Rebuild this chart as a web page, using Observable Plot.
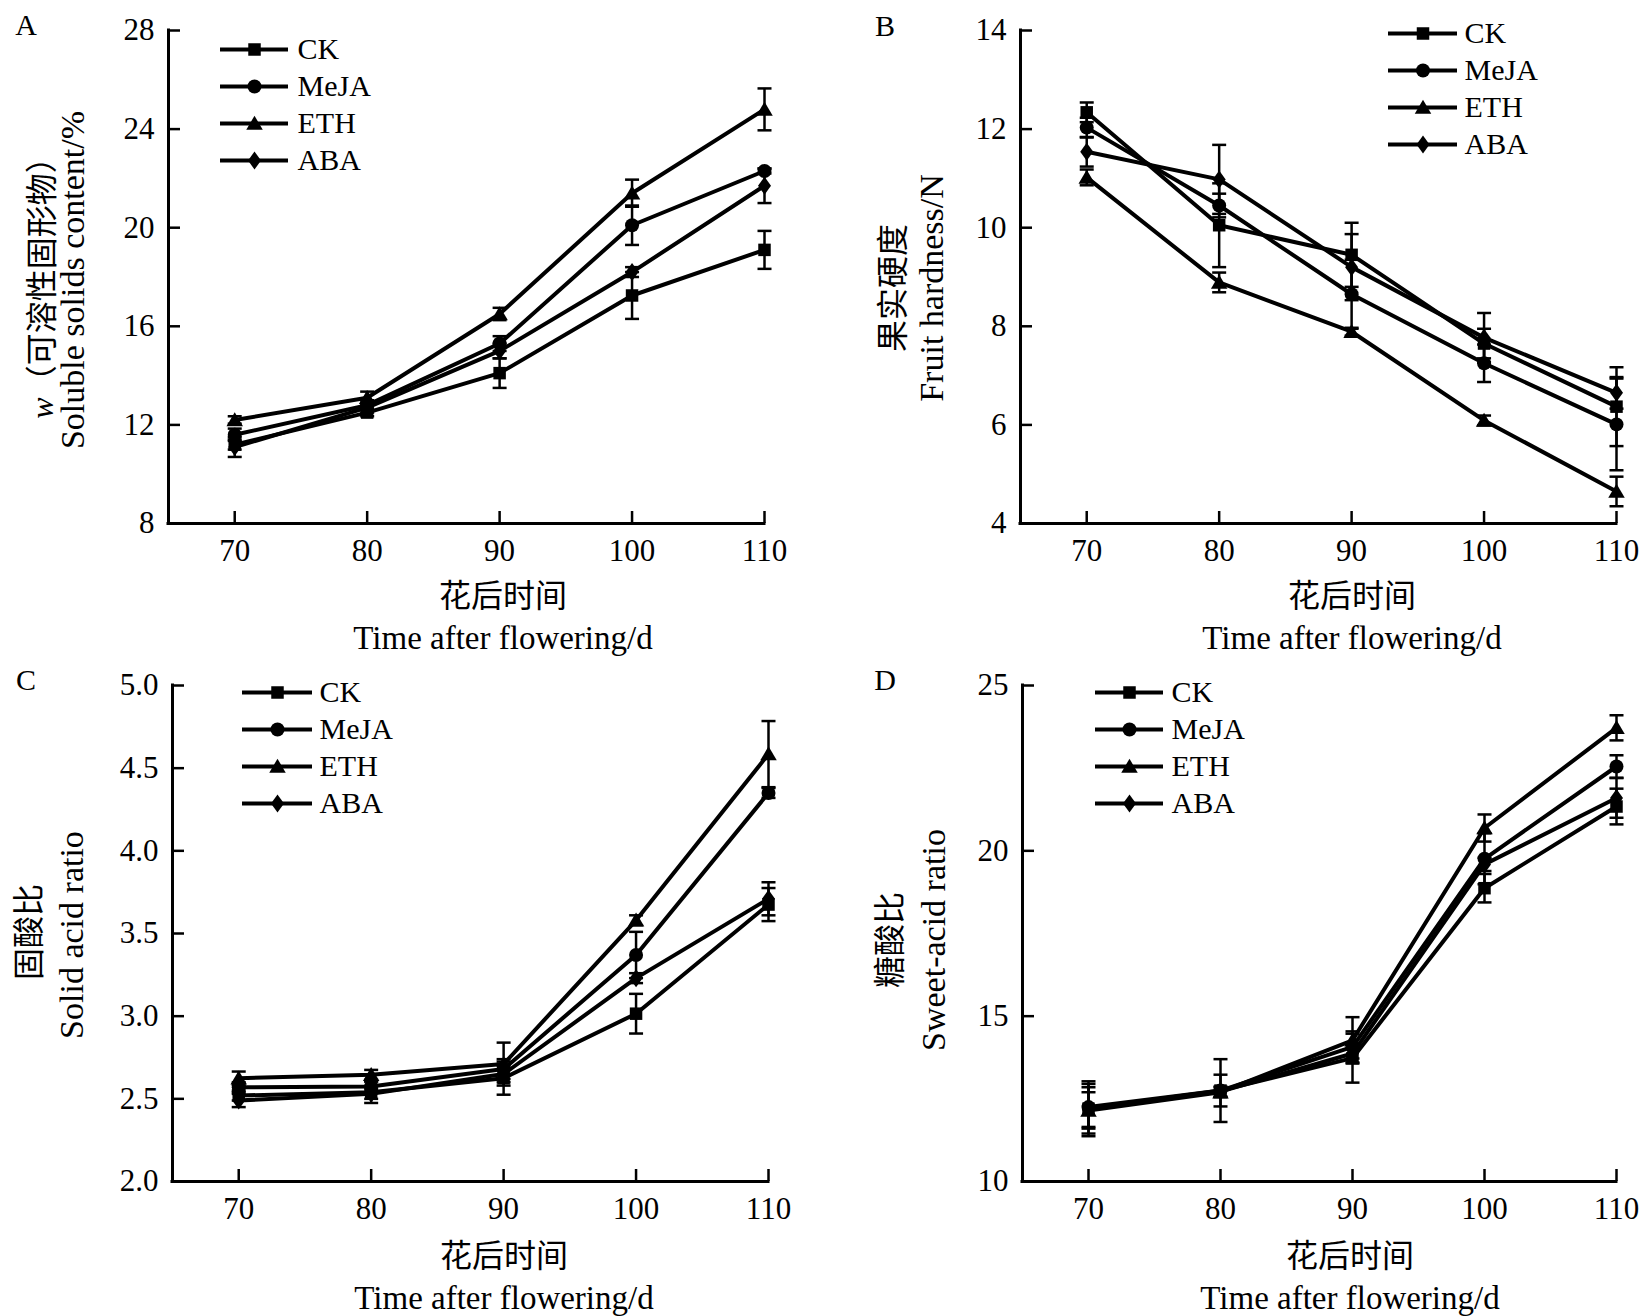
<!DOCTYPE html>
<html><head><meta charset="utf-8">
<script src="https://cdn.jsdelivr.net/npm/d3@7"></script>
<script src="https://cdn.jsdelivr.net/npm/@observablehq/plot@0.6"></script>
<style>
body{margin:0;background:#fff;}
#fig{position:relative;width:1651px;height:1316px;background:#fff;font-family:"Liberation Serif","Noto Sans CJK SC",serif;color:#000;overflow:hidden;}
#fig svg{overflow:visible;}
.box{position:absolute;}
.lbl{position:absolute;white-space:nowrap;transform:translate(-50%,-50%);font-size:33px;line-height:1;}
.zh{font-size:32px;}
.yt{font-size:34px;}
.rot{transform:translate(-50%,-50%) rotate(-90deg);}
.let{font-size:30px;}
</style></head><body><div id="fig"></div>
<script>
// ---------- data ----------
const days = [70, 80, 90, 100, 110];
const groups = ["CK", "MeJA", "ETH", "ABA"];
const xTicks = [70, 80, 90, 100, 110];

// A: soluble solids content (%)   rows: CK, MeJA, ETH, ABA
const sscMean = [[11.2, 12.5, 14.1, 17.25, 19.1], [11.6, 12.8, 15.3, 20.1, 22.3], [12.2, 13.1, 16.5, 21.4, 24.8], [11.1, 12.7, 15.0, 18.2, 21.7]];
const sscErr  = [[0.2, 0.15, 0.6, 0.95, 0.77], [0.25, 0.2, 0.3, 0.8, 0.1], [0.15, 0.25, 0.25, 0.55, 0.85], [0.4, 0.2, 0.3, 0.2, 0.7]];
const sscTicks = [8, 12, 16, 20, 24, 28];

// B: fruit hardness (N)
const hardMean = [[12.34, 10.05, 9.45, 7.65, 6.37], [12.03, 10.45, 8.65, 7.25, 6.01], [11.02, 8.89, 7.89, 6.09, 4.65], [11.54, 10.98, 9.2, 7.77, 6.65]];
const hardErr  = [[0.2, 0.85, 0.65, 0.3, 0.8], [0.2, 0.24, 0.7, 0.38, 0.93], [0.16, 0.2, 0.08, 0.1, 0.3], [0.3, 0.7, 0.67, 0.5, 0.32]];
const hardTicks = [4, 6, 8, 10, 12, 14];

// C: solid acid ratio
const solidMean = [[2.52, 2.54, 2.625, 3.015, 3.675], [2.57, 2.575, 2.68, 3.37, 4.35], [2.625, 2.645, 2.71, 3.58, 4.585], [2.49, 2.53, 2.65, 3.23, 3.71]];
const solidErr  = [[0.03, 0.065, 0.1, 0.12, 0.1], [0.03, 0.03, 0.06, 0.14, 0.03], [0.04, 0.03, 0.13, 0.03, 0.2], [0.04, 0.03, 0.05, 0.03, 0.1]];
const solidTicks = [2.0, 2.5, 3.0, 3.5, 4.0, 4.5, 5.0];

// D: sweet-acid ratio
const sweetMean = [[12.2, 12.75, 13.73, 18.87, 21.34], [12.25, 12.75, 14.07, 19.76, 22.55], [12.15, 12.7, 14.27, 20.69, 23.72], [12.2, 12.72, 13.87, 19.59, 21.6]];
const sweetErr  = [[0.83, 0.95, 0.74, 0.43, 0.54], [0.6, 0.48, 0.47, 0.77, 0.34], [0.55, 0.15, 0.7, 0.41, 0.38], [0.75, 0.15, 0.15, 0.2, 0.6]];
const sweetTicks = [10, 15, 20, 25];

// ---------- symbols ----------
const symSquare = {draw(c, size){ const s = Math.sqrt(size); c.rect(-s/2, -s/2, s, s); }};
const symCircle = {draw(c, size){ const s = Math.sqrt(size); c.moveTo(s*0.56, 0); c.arc(0, 0, s*0.56, 0, 2*Math.PI); }};
const symTri = {draw(c, size){ const s = Math.sqrt(size); c.moveTo(0, -s*0.62); c.lineTo(s*0.66, s*0.5); c.lineTo(-s*0.66, s*0.5); c.closePath(); }};
const symDia = {draw(c, size){ const s = Math.sqrt(size); c.moveTo(0, -s*0.72); c.lineTo(s*0.52, 0); c.lineTo(0, s*0.72); c.lineTo(-s*0.52, 0); c.closePath(); }};
const symCap = {draw(c, size){ const s = Math.sqrt(size); c.moveTo(-s/2, 0); c.lineTo(s/2, 0); }};
const symbolScale = {domain: groups, range: [symSquare, symCircle, symTri, symDia]};
const R = 12.5 / Math.sqrt(Math.PI);
const RCAP = 14 / Math.sqrt(Math.PI);

const fig = document.getElementById("fig");
const FONT = "'Liberation Serif','Noto Sans CJK SC',serif";
const TICKFONT = 31, LEGFONT = 30;

function rows(mean, err){
  const out = [];
  groups.forEach((g, i) => days.forEach((d, j) => out.push({group: g, day: d, v: mean[i][j], e: err[i][j]})));
  return out;
}

function place(node, left, top){
  const w = document.createElement("div");
  w.className = "box"; w.style.left = left + "px"; w.style.top = top + "px";
  w.appendChild(node); fig.appendChild(w);
}

function panel(p){
  const data = rows(p.mean, p.err);
  const innerW = p.width - p.ml - p.mr, innerH = p.height - p.mt - p.mb;
  const chart = Plot.plot({
    width: p.width, height: p.height,
    marginLeft: p.ml, marginRight: p.mr, marginTop: p.mt, marginBottom: p.mb,
    style: {fontFamily: FONT, fontSize: TICKFONT + "px", color: "black", background: "transparent", overflow: "visible"},
    x: {domain: [65, 110]},
    y: {domain: p.yDomain},
    symbol: symbolScale,
    marks: [
      Plot.ruleX([65], {stroke: "black", strokeWidth: 3, strokeLinecap: "square"}),
      Plot.ruleY([p.yDomain[0]], {stroke: "black", strokeWidth: 3, strokeLinecap: "square"}),
      Plot.tickX(xTicks, {x: d => d, insetTop: innerH - 12, stroke: "black", strokeWidth: 2.5}),
      Plot.tickY(p.yTicks, {y: d => d, insetRight: innerW - 12, stroke: "black", strokeWidth: 2.5}),
      Plot.axisX(xTicks, {tickSize: 0, tickPadding: 15, fontSize: TICKFONT, label: null}),
      Plot.axisY(p.yTicks, {tickSize: 0, tickPadding: 14, fontSize: TICKFONT, label: null, tickFormat: p.fmt}),
      Plot.line(data, {x: "day", y: "v", z: "group", stroke: "black", strokeWidth: 4}),
      Plot.ruleX(data, {x: "day", y1: d => d.v - d.e, y2: d => d.v + d.e, stroke: "black", strokeWidth: 2.5}),
      Plot.dot(data, {x: "day", y: d => d.v + d.e, symbol: symCap, r: RCAP, fill: "none", stroke: "black", strokeWidth: 2.5}),
      Plot.dot(data, {x: "day", y: d => d.v - d.e, symbol: symCap, r: RCAP, fill: "none", stroke: "black", strokeWidth: 2.5}),
      Plot.dot(data, {x: "day", y: "v", symbol: "group", r: R, fill: "black", stroke: "none"})
    ]
  });
  place(chart, p.left, p.top);
}

function legend(lineStart, firstRow, lineLen, gap, dx){
  const pad = 20;
  const chart = Plot.plot({
    width: pad + lineLen + 140, height: pad * 2 + gap * 3,
    marginLeft: pad, marginRight: 140, marginTop: pad, marginBottom: pad,
    style: {fontFamily: FONT, fontSize: LEGFONT + "px", color: "black", background: "transparent", overflow: "visible"},
    x: {domain: [0, 1], axis: null},
    y: {type: "point", domain: groups, padding: 0, axis: null},
    symbol: symbolScale,
    marks: [
      Plot.ruleY(groups, {y: d => d, x1: 0, x2: 1, stroke: "black", strokeWidth: 4}),
      Plot.dot(groups, {x: 0.5, y: d => d, symbol: d => d, r: R, fill: "black", stroke: "none"}),
      Plot.text(groups, {x: 1, y: d => d, text: d => d, dx: dx, textAnchor: "start", fontSize: LEGFONT})
    ]
  });
  place(chart, lineStart - pad, firstRow - pad);
}

function label(text, x, y, cls, html){
  const d = document.createElement("div");
  d.className = "lbl" + (cls ? " " + cls : "");
  d.style.left = x + "px"; d.style.top = y + "px";
  if (html) d.innerHTML = text; else d.textContent = text;
  fig.appendChild(d);
}

// ---------- panels ----------
panel({left: 0, top: 0, width: 840, height: 600, ml: 168, mr: 76, mt: 30, mb: 77, yDomain: [8, 28], yTicks: sscTicks, mean: sscMean, err: sscErr, fmt: d3.format("d")});
panel({left: 850, top: 0, width: 801, height: 600, ml: 170, mr: 35, mt: 30, mb: 77, yDomain: [4, 14], yTicks: hardTicks, mean: hardMean, err: hardErr, fmt: d3.format("d")});
panel({left: 0, top: 640, width: 840, height: 600, ml: 172, mr: 72, mt: 45, mb: 59, yDomain: [2, 5], yTicks: solidTicks, mean: solidMean, err: solidErr, fmt: d3.format(".1f")});
panel({left: 850, top: 640, width: 801, height: 600, ml: 172, mr: 35, mt: 45, mb: 59, yDomain: [10, 25], yTicks: sweetTicks, mean: sweetMean, err: sweetErr, fmt: d3.format("d")});

legend(220, 47.7, 68, 37.4, 9);
legend(1388, 31.8, 69, 37.4, 7);
legend(242, 691.7, 70, 37.2, 7);
legend(1095, 691.4, 68, 37.5, 8);

// panel letters
label("A", 26, 25, "let");
label("B", 885, 26, "let");
label("C", 26, 680, "let");
label("D", 885, 680, "let");

// x titles
[[503, 596, 638], [1352, 596, 638], [504, 1256, 1298], [1350, 1256, 1298]].forEach(([x, y1, y2]) => {
  label("花后时间", x, y1, "zh");
  label("Time after flowering/d", x, y2);
});

// y titles
label("<i>w</i>（可溶性固形物）", 42, 280, "rot zh", true);
label("Soluble solids content/%", 73, 280, "rot yt");
label("果实硬度", 893, 288, "rot zh");
label("Fruit hardness/N", 932, 288, "rot yt");
label("固酸比", 29, 932, "rot zh");
label("Solid acid ratio", 72, 935, "rot yt");
label("糖酸比", 890, 940, "rot zh");
label("Sweet-acid ratio", 934, 940, "rot yt");
</script>
</body></html>
